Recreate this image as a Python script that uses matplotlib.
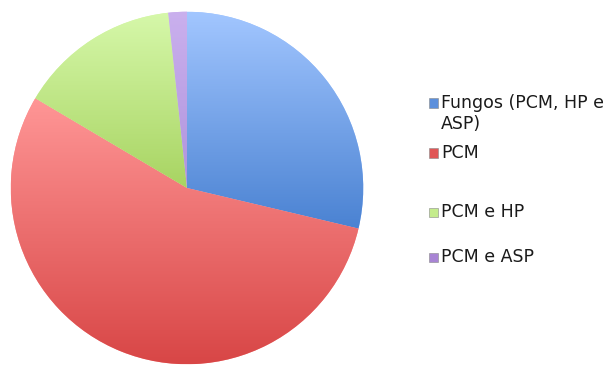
import numpy as np
import matplotlib
matplotlib.use("Agg")
import matplotlib.pyplot as plt
from matplotlib.colors import LinearSegmentedColormap
from matplotlib.patches import Rectangle

labels = ["Fungos (PCM, HP e\nASP)", "PCM", "PCM e HP", "PCM e ASP"]
values = [28.7, 54.8, 14.8, 1.7]

top_colors = ["#a2c6ff", "#ff9696", "#d6f8aa", "#cab0ee"]
bottom_colors = ["#4a82d2", "#d84646", "#a8d462", "#b094dc"]
legend_colors = ["#5b8fdc", "#e05656", "#c4ec8c", "#a884d4"]

fig = plt.figure(figsize=(6.14, 3.68), dpi=100)
cx, cy, r = 187, 188, 178
ax = fig.add_axes([(cx - r) / 614, (368 - cy - r) / 368, 2 * r / 614, 2 * r / 368])
wedges, _ = ax.pie(values, startangle=90, counterclock=False, radius=1.0,
                   colors=top_colors, wedgeprops=dict(linewidth=0))
ax.set_aspect("equal")
ax.axis("off")

for w, tc, bc in zip(wedges, top_colors, bottom_colors):
    bb = w.get_path().get_extents()
    cmap = LinearSegmentedColormap.from_list("g", [bc, tc])
    grad = np.linspace(0, 1, 256).reshape(-1, 1)
    im = ax.imshow(grad, cmap=cmap, origin="lower", aspect="auto",
                   extent=[bb.x0, bb.x1, bb.y0, bb.y1], zorder=w.get_zorder() + 0.1)
    im.set_clip_path(w)
ax.set_xlim(-1.01, 1.01)
ax.set_ylim(-1.01, 1.01)

legend_y = [103, 153, 212, 257]
for lab, col, y in zip(labels, legend_colors, legend_y):
    fig.patches.append(Rectangle((429 / 614, 1 - (y + 4.5) / 368), 9 / 614, 9 / 368,
                                 transform=fig.transFigure, facecolor=col,
                                 edgecolor="#888888", linewidth=0.4))
    fig.text(441 / 614, 1 - (y - 9) / 368, lab, fontsize=12.5, family="DejaVu Sans",
             va="top", ha="left", color="#1a1a1a", linespacing=1.2)

fig.savefig("out.png", dpi=100, facecolor="white")
